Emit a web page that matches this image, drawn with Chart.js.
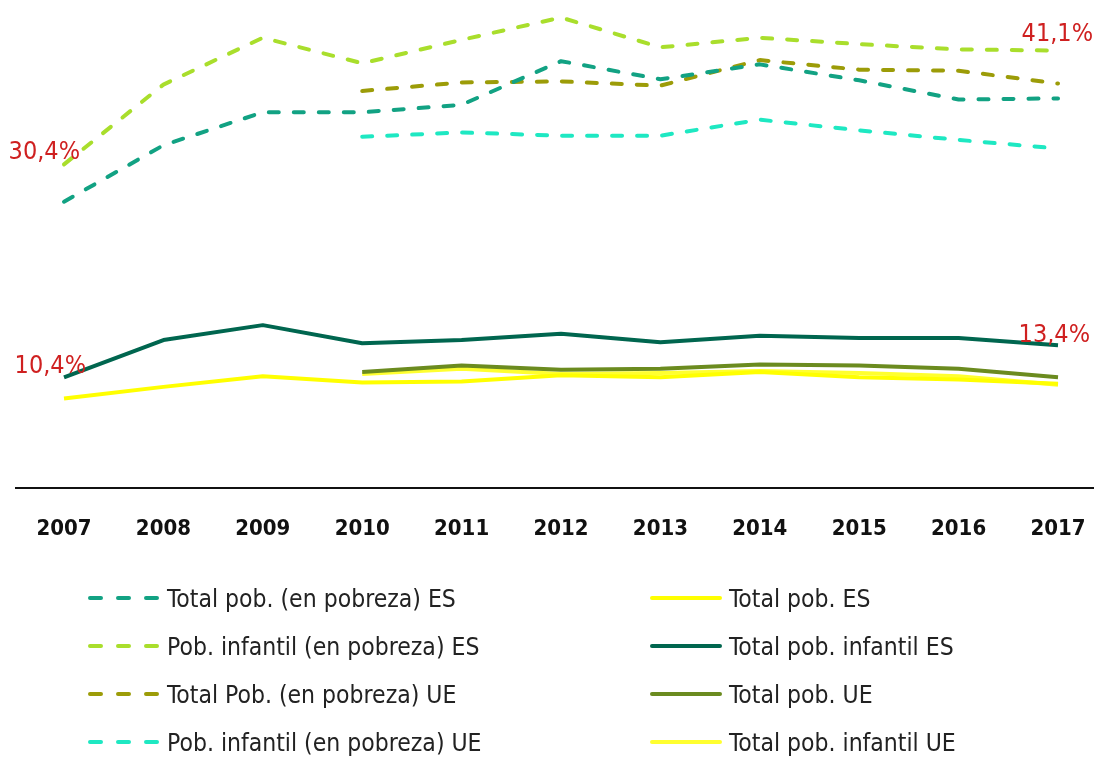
<!DOCTYPE html>
<html>
<head>
<meta charset="utf-8">
<script src="https://cdn.jsdelivr.net/npm/chart.js@4.4.1/dist/chart.umd.min.js"></script>
<style>
  html, body { margin: 0; padding: 0; background: #fff; }
  body { width: 1094px; height: 757px; position: relative; overflow: hidden; font-family: "DejaVu Sans Condensed", sans-serif; }
  #wrap { position: absolute; left: 0; top: 0; width: 1094px; height: 560px; }
  #legend { position: absolute; left: 0; top: 0; width: 1094px; height: 757px; pointer-events: none; }
  .item { position: absolute; height: 40px; display: flex; align-items: center; font-size: 24.5px; color: #222; white-space: nowrap; }
  .item svg { display: block; margin-right: 7px; }
</style>
</head>
<body>
<div id="wrap"><canvas id="c"></canvas></div>
<div id="legend"></div>
<script>
// ---- data ----
const years = [2007, 2008, 2009, 2010, 2011, 2012, 2013, 2014, 2015, 2016, 2017];
const seriesNames = [
  "Total pob. (en pobreza) ES",
  "Pob. infantil (en pobreza) ES",
  "Total Pob. (en pobreza) UE",
  "Pob. infantil (en pobreza) UE",
  "Total pob. ES",
  "Total pob. infantil ES",
  "Total pob. UE",
  "Total pob. infantil UE"
];
const totalPobrezaES    = [26.9, 32.2, 35.3, 35.3, 36.0, 40.1, 38.4, 39.8, 38.3, 36.5, 36.6];
const infantilPobrezaES = [30.4, 37.9, 42.3, 39.9, 42.1, 44.2, 41.4, 42.3, 41.7, 41.2, 41.1];
const totalPobrezaUE    = [null, null, null, 37.3, 38.1, 38.2, 37.8, 40.2, 39.3, 39.2, 38.0];
const infantilPobrezaUE = [null, null, null, 33.0, 33.4, 33.1, 33.1, 34.6, 33.6, 32.7, 31.9];
const totalES           = [8.4, 9.5, 10.5, 9.9, 10.0, 10.6, 10.4, 10.9, 10.4, 10.2, 9.8];
const totalInfantilES   = [10.4, 13.9, 15.3, 13.6, 13.9, 14.5, 13.7, 14.3, 14.1, 14.1, 13.4];
const totalUE           = [null, null, null, 10.9, 11.5, 11.1, 11.2, 11.6, 11.5, 11.2, 10.4];
const totalInfantilUE   = [null, null, null, 10.7, 11.2, 10.7, 10.8, 11.0, 10.8, 10.5, 9.7];
const annotations = [
  { series: 1, year: 2007, text: "30,4%" },
  { series: 1, year: 2017, text: "41,1%" },
  { series: 5, year: 2007, text: "10,4%" },
  { series: 5, year: 2017, text: "13,4%" }
];

// ---- styles ----
const allValues = [totalPobrezaES, infantilPobrezaES, totalPobrezaUE, infantilPobrezaUE, totalES, totalInfantilES, totalUE, totalInfantilUE];
const colors = ["#12a283", "#a9de2c", "#9c9c08", "#1ee8c2", "#ffff00", "#00664f", "#6b8b1f", "#ffff30"];
const dashed = [true, true, true, true, false, false, false, false];
const annOffsets = [ {dx: 16, dy: -5}, {dx: 35, dy: -10}, {dx: 22, dy: -4}, {dx: 32, dy: -3} ];

const datasets = allValues.map((vals, i) => ({
  label: seriesNames[i],
  data: years.map((yr, j) => ({ x: yr, y: vals[j] })),
  borderColor: colors[i],
  backgroundColor: colors[i],
  borderWidth: 4,
  borderDash: dashed[i] ? [10, 15] : [],
  borderCapStyle: dashed[i] ? "round" : "butt",
  borderJoinStyle: "round",
  pointRadius: 0,
  pointHoverRadius: 0,
  tension: 0,
  fill: false,
  spanGaps: false
}));

const annPlugin = {
  id: "ann",
  afterDatasetsDraw(chart) {
    const ctx = chart.ctx;
    const xs = chart.scales.x, ys = chart.scales.y;
    ctx.save();
    ctx.fillStyle = "#cf2020";
    ctx.font = '25px "DejaVu Sans Condensed", sans-serif';
    ctx.textAlign = "right";
    ctx.textBaseline = "alphabetic";
    annotations.forEach((a, k) => {
      const v = allValues[a.series][years.indexOf(a.year)];
      const px = xs.getPixelForValue(a.year);
      const py = ys.getPixelForValue(v);
      ctx.fillText(a.text, px + annOffsets[k].dx, py + annOffsets[k].dy);
    });
    ctx.restore();
  }
};

const chart = new Chart(document.getElementById("c"), {
  type: "line",
  data: { datasets },
  options: {
    responsive: true,
    maintainAspectRatio: false,
    animation: false,
    layout: { padding: { left: 16, right: 0, top: 9, bottom: 17 } },
    plugins: { legend: { display: false }, tooltip: { enabled: false } },
    scales: {
      x: {
        type: "linear",
        min: 2006.517,
        max: 2017.362,
        afterBuildTicks: s => { s.ticks = years.map(v => ({ value: v })); },
        afterFit: s => { s.height = 55; s.paddingLeft = 0; s.paddingRight = 0; },
        grid: { display: false, drawTicks: false },
        border: { display: true, color: "#111", width: 2 },
        ticks: {
          padding: 28,
          color: "#111",
          font: { family: '"DejaVu Sans Condensed", sans-serif', size: 22, weight: "bold" },
          callback: v => String(v),
          maxRotation: 0,
          autoSkip: false
        }
      },
      y: { display: false, min: 0, max: 45 }
    }
  },
  plugins: [annPlugin]
});

// ---- HTML legend ----
const legend = document.getElementById("legend");
const rowY = [598, 646, 694, 742];
datasets.forEach((ds, i) => {
  const col = i < 4 ? 0 : 1;
  const row = i % 4;
  const div = document.createElement("div");
  div.className = "item";
  div.style.left = (col === 0 ? 86 : 648) + "px";
  div.style.top = (rowY[row] - 20) + "px";
  const svgNS = "http://www.w3.org/2000/svg";
  const svg = document.createElementNS(svgNS, "svg");
  svg.setAttribute("width", "74"); svg.setAttribute("height", "10");
  const ln = document.createElementNS(svgNS, "line");
  ln.setAttribute("x1", "4"); ln.setAttribute("x2", "72");
  ln.setAttribute("y1", "5"); ln.setAttribute("y2", "5");
  ln.setAttribute("stroke", ds.borderColor);
  ln.setAttribute("stroke-width", "4");
  ln.setAttribute("stroke-linecap", "round");
  if (dashed[i]) ln.setAttribute("stroke-dasharray", "11 17");
  svg.appendChild(ln);
  div.appendChild(svg);
  const span = document.createElement("span");
  span.textContent = ds.label;
  div.appendChild(span);
  legend.appendChild(div);
});
</script>
</body>
</html>
